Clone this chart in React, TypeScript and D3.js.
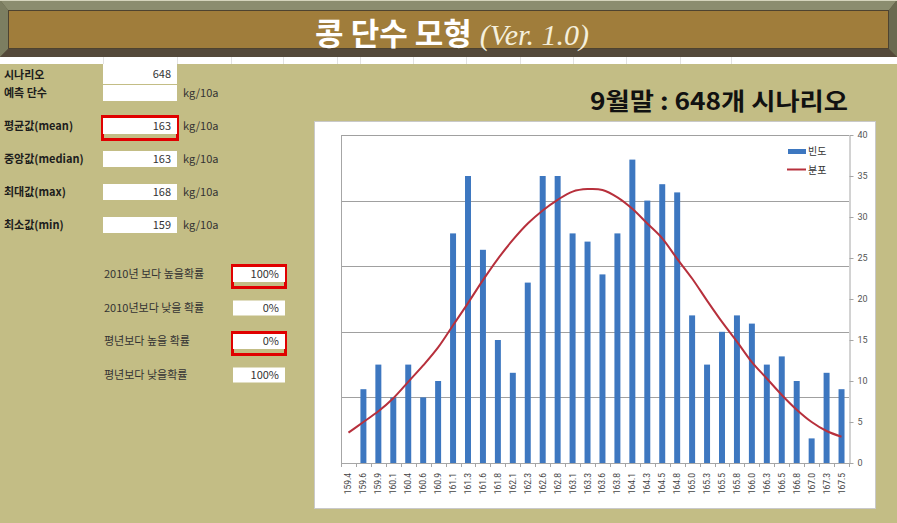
import React, { useEffect, useRef } from 'react';
import * as d3 from 'd3';

const W = 897, H = 523;
const BG = '#c3bd85';
const KR = '"Noto Sans CJK KR", "Noto Sans", sans-serif';
const PLOT = { left: 341, right: 849, top: 135, bottom: 463 };

// histogram of yields (kg/10a) over the 648 scenarios
const categories = [
  '159.4', '159.6', '159.9', '160.1', '160.4', '160.6', '160.9', '161.1', '161.3', '161.6', '161.8',
  '162.1', '162.3', '162.6', '162.8', '163.1', '163.3', '163.6', '163.8', '164.1', '164.3', '164.5',
  '164.8', '165.0', '165.3', '165.5', '165.8', '166.0', '166.3', '166.5', '166.8', '167.0', '167.3', '167.5',
];
const freq = [0, 9, 12, 8, 12, 8, 10, 28, 35, 26, 15, 11, 22, 35, 35, 28, 27, 23, 28, 37, 32, 34, 33, 18, 12, 16, 18, 17, 12, 13, 10, 3, 11, 9];
const dist = [3.7, 5.0, 6.3, 7.9, 9.9, 11.9, 14.1, 16.8, 19.5, 22.3, 24.9, 27.2, 29.2, 30.8, 32.1, 33.1, 33.4, 33.3, 32.4, 31.0, 29.2, 27.4, 24.9, 22.5, 19.8, 17.2, 14.8, 12.3, 10.3, 8.3, 6.5, 5.0, 3.9, 3.2];
const rightTicks = [0, 5, 10, 15, 20, 25, 30, 35, 40];
const gridTicks = [8, 16, 24, 32, 40];
const legendLabels = ['빈도', '분포'];

const titleKr = '콩 단수 모형';
const titleVer = '(Ver. 1.0)';
const chartTitle = '9월말 : 648개 시나리오';
const scenarioLabel = '시나리오';
const scenarioCount = '648';
const forecastLabel = '예측 단수';
const unit = 'kg/10a';
const statLabels = ['평균값(mean)', '중앙값(median)', '최대값(max)', '최소값(min)'];
const statValues = ['163', '163', '168', '159'];
const statMarked = [true, false, false, false];
const probLabels = ['2010년 보다 높을확률', '2010년보다 낮을 확률', '평년보다 높을 확률', '평년보다 낮을확률'];
const probValues = ['100%', '0%', '0%', '100%'];
const probMarked = [true, false, true, false];

const stripLines = [103, 177, 231, 283, 337, 360, 413, 466, 520, 573, 626, 680, 731];

function Chart() {
  const ref = useRef<SVGGElement>(null);

  useEffect(() => {
    const g = d3.select(ref.current);
    g.selectAll('*').remove();

    const x = d3.scaleBand<string>().domain(categories).range([PLOT.left, PLOT.right]).paddingInner(0.6).paddingOuter(0.3);
    const y = d3.scaleLinear().domain([0, 40]).range([PLOT.bottom, PLOT.top]);
    const cx = (c: string) => (x(c) as number) + x.bandwidth() / 2;

    // chart frame
    g.append('rect')
      .attr('x', 314.5).attr('y', 121.5).attr('width', 561).attr('height', 387)
      .attr('fill', '#fff').attr('stroke', '#c9c9c9');

    // gridlines (hidden primary axis)
    g.selectAll('line.grid').data(gridTicks).join('line')
      .attr('class', 'grid')
      .attr('x1', PLOT.left).attr('x2', PLOT.right)
      .attr('y1', d => Math.round(y(d)) + 0.5).attr('y2', d => Math.round(y(d)) + 0.5)
      .attr('stroke', '#a0a0a0');

    g.append('line')
      .attr('x1', PLOT.left + 0.5).attr('x2', PLOT.left + 0.5)
      .attr('y1', PLOT.top).attr('y2', PLOT.bottom)
      .attr('stroke', '#a6a6a6');

    // category axis
    const step = x.step();
    const bounds = d3.range(categories.length + 1).map(i => PLOT.left + i * step);
    g.append('line')
      .attr('x1', PLOT.left).attr('x2', PLOT.right)
      .attr('y1', PLOT.bottom + 0.5).attr('y2', PLOT.bottom + 0.5)
      .attr('stroke', '#a6a6a6');
    g.selectAll('line.xtick').data(bounds).join('line')
      .attr('class', 'xtick')
      .attr('x1', d => Math.round(d) + 0.5).attr('x2', d => Math.round(d) + 0.5)
      .attr('y1', PLOT.bottom).attr('y2', PLOT.bottom + 4)
      .attr('stroke', '#a6a6a6');
    g.selectAll('text.xlab').data(categories).join('text')
      .attr('class', 'xlab')
      .attr('transform', d => `translate(${cx(d)},${PLOT.bottom + 10}) rotate(-90)`)
      .attr('text-anchor', 'end').attr('dy', '0.35em')
      .attr('font-family', 'Roboto, "Noto Sans", sans-serif').attr('font-size', 8.5).attr('fill', '#444')
      .text(d => d);

    // secondary (right) axis
    const ax = g.append('g')
      .attr('transform', `translate(${PLOT.right + 0.5},0)`)
      .call(d3.axisRight(y).tickValues(rightTicks).tickSize(4).tickSizeOuter(0).tickPadding(4));
    ax.selectAll('path, line').attr('stroke', '#a6a6a6');
    ax.selectAll('text').attr('fill', '#555').attr('font-size', 9).attr('font-family', 'Roboto, "Noto Sans", sans-serif');

    // bars
    g.selectAll('rect.bar').data(categories).join('rect')
      .attr('class', 'bar')
      .attr('x', d => x(d) as number)
      .attr('width', x.bandwidth())
      .attr('y', (_, i) => y(freq[i]))
      .attr('height', (_, i) => y(0) - y(freq[i]))
      .attr('fill', '#3d77c0');

    // fitted distribution
    const line = d3.line<number>()
      .x((_, i) => cx(categories[i]))
      .y(d => y(d))
      .curve(d3.curveCatmullRom);
    g.append('path')
      .attr('d', line(dist))
      .attr('fill', 'none').attr('stroke', '#b7303c').attr('stroke-width', 2);

    // legend
    const lg = g.append('g').attr('font-family', KR).attr('font-size', 10).attr('fill', '#333');
    lg.append('rect').attr('x', 788).attr('y', 149).attr('width', 18).attr('height', 5).attr('fill', '#3d77c0');
    lg.append('line').attr('x1', 787).attr('x2', 806).attr('y1', 169.5).attr('y2', 169.5)
      .attr('stroke', '#b7303c').attr('stroke-width', 2);
    lg.selectAll('text').data(legendLabels).join('text')
      .attr('x', 808).attr('y', (_, i) => 151.5 + i * 18.5)
      .attr('dy', '0.35em')
      .text(d => d);
  }, []);

  return <g ref={ref} />;
}

function Cell({ x, y, w, h, value, marked }: { x: number; y: number; w: number; h: number; value: string; marked?: boolean }) {
  return (
    <g>
      {marked && (
        <rect x={x - 0.5} y={y - 1.5} width={w + 1} height={h + 7} fill="none" stroke="#e00000" strokeWidth={3} />
      )}
      <rect x={x} y={y} width={w} height={h} fill="#fff" />
      <text x={x + w - 6} y={y + h / 2} dy="0.35em" textAnchor="end" fontSize={11} fill="#333">{value}</text>
    </g>
  );
}

export default function App() {
  return (
    <svg width={W} height={H} style={{ position: 'absolute', left: 0, top: 0, display: 'block' }} fontFamily={KR}>
      <rect width={W} height={H} fill={BG} />

      {/* title banner */}
      <rect x={0} y={0} width={W} height={58} fill="#5f5a42" />
      <polygon points={`0,0 ${W},0 ${W - 8},10 8,10`} fill="#8b8d6f" />
      <polygon points={`0,0 8,10 8,49 0,57`} fill="#7c7e61" />
      <polygon points={`${W},0 ${W - 8},10 ${W - 8},49 ${W},57`} fill="#6a6a50" />
      <polygon points={`0,57 8,49 ${W - 8},49 ${W},57`} fill="#54493a" />
      <line x1={0} x2={W} y1={0.5} y2={0.5} stroke="#d4d4bc" />
      <rect x={8.5} y={10.5} width={W - 17} height={38} fill="#a07d3b" stroke="#4e4330" />
      <text x={452} y={45} textAnchor="middle" fill="#fff">
        <tspan fontWeight="bold" fontSize={31}>{titleKr}</tspan>
        <tspan dx={8} fontFamily='"Liberation Serif", serif' fontStyle="italic" fontSize={30} fill="#f4efdc">{titleVer}</tspan>
      </text>

      {/* spreadsheet header strip */}
      <rect x={0} y={57} width={W} height={7} fill="#fff" />
      {stripLines.map(sx => (
        <line key={sx} x1={sx + 0.5} x2={sx + 0.5} y1={57} y2={64} stroke="#e2e2e2" />
      ))}

      {/* summary panel */}
      <g fontSize={11} fill="#1c1c1c">
        <text x={4} y={75} dy="0.35em" fontWeight="bold">{scenarioLabel}</text>
        <text x={4} y={93} dy="0.35em" fontWeight="bold">{forecastLabel}</text>
        <Cell x={103} y={64} w={74} h={20} value={scenarioCount} />
        <Cell x={103} y={85} w={74} h={16} value="" />
        <text x={183} y={93} dy="0.35em" fill="#333">{unit}</text>
        {statLabels.map((lab, i) => {
          const cyv = 126 + i * 33;
          return (
            <g key={lab}>
              <text x={4} y={cyv} dy="0.35em" fontWeight="bold">{lab}</text>
              <Cell x={103} y={cyv - 8} w={74} h={16} value={statValues[i]} marked={statMarked[i]} />
              <text x={183} y={cyv} dy="0.35em" fill="#333">{unit}</text>
            </g>
          );
        })}
        {probLabels.map((lab, i) => {
          const cyv = 274.5 + i * 33.5;
          return (
            <g key={lab}>
              <text x={104} y={cyv} dy="0.35em" fill="#333">{lab}</text>
              <Cell x={233} y={cyv - 7.5} w={52} h={15} value={probValues[i]} marked={probMarked[i]} />
            </g>
          );
        })}
      </g>

      <text x={590} y={110} fontSize={24} fontWeight="bold" fill="#111" textLength={258} lengthAdjust="spacingAndGlyphs">{chartTitle}</text>

      <Chart />
    </svg>
  );
}
